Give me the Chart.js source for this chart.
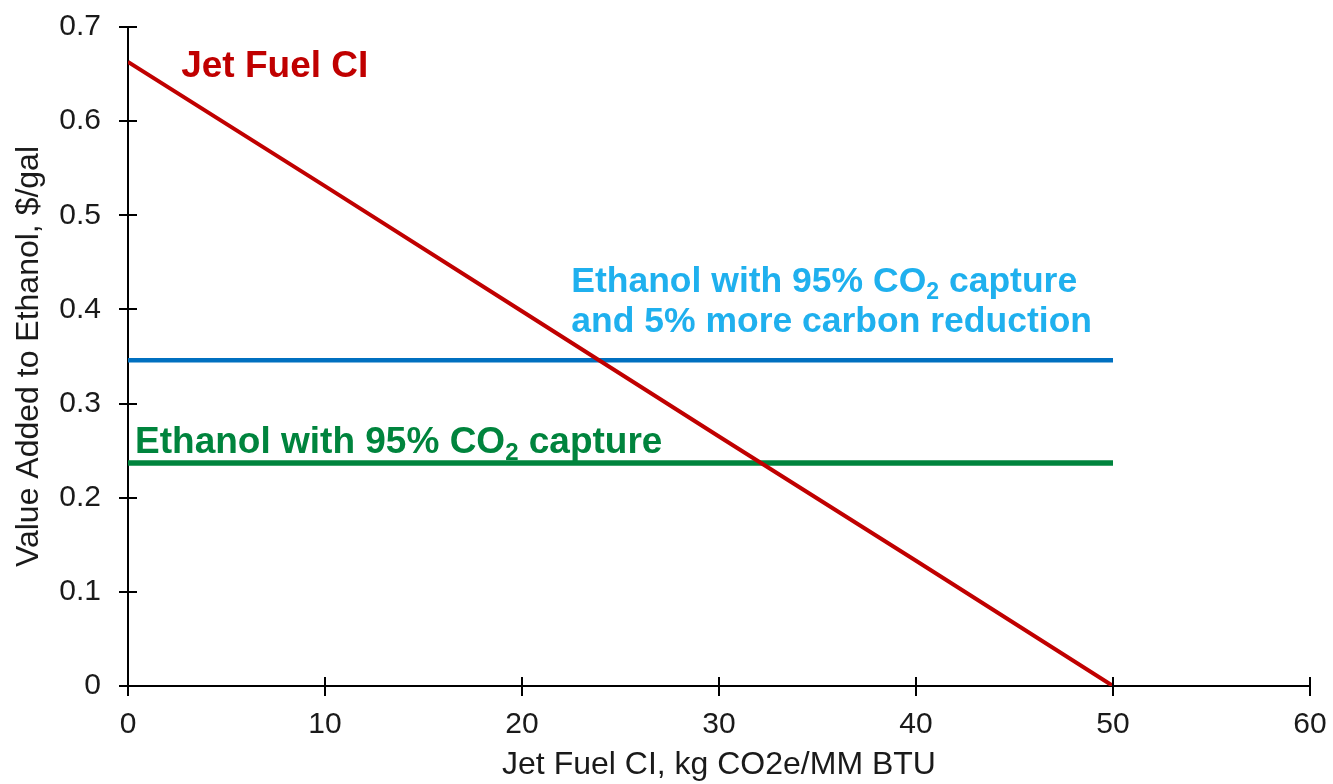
<!DOCTYPE html>
<html>
<head>
<meta charset="utf-8">
<script src="https://cdn.jsdelivr.net/npm/chart.js@4"></script>
<style>
  html, body { margin: 0; padding: 0; background: #fff; }
  #wrap { width: 1333px; height: 784px; position: relative; }
</style>
</head>
<body>
<div id="wrap"><canvas id="chart"></canvas></div>
<script>
  // data
  const jetFuelCI = [0, 10, 20, 30, 40, 50];
  const jetFuelValue = [0.663, 0.531, 0.398, 0.265, 0.133, 0];
  const ethanolX = [0, 50];
  const ethanolCapture = [0.237, 0.237];
  const ethanolCaptureMore = [0.346, 0.346];
  const xTicks = [0, 10, 20, 30, 40, 50, 60];
  const yTicks = [0, 0.1, 0.2, 0.3, 0.4, 0.5, 0.6, 0.7];

  const FONT = "Arial, 'Liberation Sans', sans-serif";
  const toPoints = (xs, ys) => xs.map((x, i) => ({ x: x, y: ys[i] }));

  // tick marks that cross the axis line
  const crossTicks = {
    id: 'crossTicks',
    afterDraw(chart) {
      const ctx = chart.ctx;
      const xs = chart.scales.x, ys = chart.scales.y;
      const area = chart.chartArea;
      ctx.save();
      ctx.strokeStyle = '#000';
      ctx.lineWidth = 2;
      ctx.beginPath();
      xTicks.forEach(v => {
        const px = Math.round(xs.getPixelForValue(v));
        ctx.moveTo(px, area.bottom - 9);
        ctx.lineTo(px, area.bottom + 10);
      });
      yTicks.forEach(v => {
        const py = Math.round(ys.getPixelForValue(v));
        ctx.moveTo(area.left - 9, py);
        ctx.lineTo(area.left + 9, py);
      });
      ctx.stroke();
      ctx.restore();
    }
  };

  function drawRich(ctx, parts, x, y, size) {
    parts.forEach(p => {
      if (p.sub) {
        ctx.font = 'bold ' + Math.round(size * 0.65) + 'px ' + FONT;
        ctx.fillText(p.t, x, y + size * 0.2);
      } else {
        ctx.font = 'bold ' + size + 'px ' + FONT;
        ctx.fillText(p.t, x, y);
      }
      x += ctx.measureText(p.t).width;
    });
  }

  // series labels placed in data coordinates
  const seriesLabels = {
    id: 'seriesLabels',
    afterDraw(chart) {
      const ctx = chart.ctx;
      const xs = chart.scales.x, ys = chart.scales.y;
      ctx.save();
      ctx.textBaseline = 'alphabetic';
      ctx.textAlign = 'left';

      ctx.fillStyle = '#C00000';
      drawRich(ctx, [{ t: 'Jet Fuel CI' }], xs.getPixelForValue(2.7), ys.getPixelForValue(0.647), 37);

      ctx.fillStyle = '#1FB0EE';
      const bx = xs.getPixelForValue(22.5);
      drawRich(ctx, [{ t: 'Ethanol with 95% CO' }, { t: '2', sub: true }, { t: ' capture' }], bx, ys.getPixelForValue(0.419), 35.5);
      drawRich(ctx, [{ t: 'and 5% more carbon reduction' }], bx, ys.getPixelForValue(0.376), 35.5);

      ctx.fillStyle = '#00843D';
      drawRich(ctx, [{ t: 'Ethanol with 95% CO' }, { t: '2', sub: true }, { t: ' capture' }], xs.getPixelForValue(0.36), ys.getPixelForValue(0.2475), 37);
      ctx.restore();
    }
  };

  new Chart(document.getElementById('chart'), {
    type: 'line',
    data: {
      datasets: [
        { label: 'Jet Fuel CI', data: toPoints(jetFuelCI, jetFuelValue),
          borderColor: '#C00000', borderWidth: 4, pointRadius: 0, fill: false },
        { label: 'Ethanol with 95% CO2 capture and 5% more carbon reduction', data: toPoints(ethanolX, ethanolCaptureMore),
          borderColor: '#0070C0', borderWidth: 4.5, pointRadius: 0, fill: false },
        { label: 'Ethanol with 95% CO2 capture', data: toPoints(ethanolX, ethanolCapture),
          borderColor: '#00843D', borderWidth: 5.5, pointRadius: 0, fill: false }
      ]
    },
    options: {
      responsive: true,
      maintainAspectRatio: false,
      animation: false,
      layout: { padding: { top: 27, right: 23, left: 0, bottom: 0 } },
      plugins: { legend: { display: false }, tooltip: { enabled: false } },
      scales: {
        x: {
          type: 'linear', min: 0, max: 60,
          afterBuildTicks: s => { s.ticks = xTicks.map(v => ({ value: v })); },
          afterFit: s => { s.height = 98; s.paddingLeft = 0; s.paddingRight = 0; },
          grid: { display: false, drawTicks: false },
          border: { display: true, color: '#000', width: 2 },
          ticks: { color: '#1a1a1a', padding: 21, maxRotation: 0, font: { family: FONT, size: 30 } },
          title: { display: true, text: 'Jet Fuel CI, kg CO2e/MM BTU', color: '#1a1a1a',
                   padding: { top: 0, bottom: 0 }, font: { family: FONT, size: 32 } }
        },
        y: {
          type: 'linear', min: 0, max: 0.7,
          afterBuildTicks: s => { s.ticks = yTicks.map(v => ({ value: v })); },
          afterFit: s => { s.width = 128; s.paddingTop = 0; s.paddingBottom = 0; },
          grid: { display: false, drawTicks: false },
          border: { display: true, color: '#000', width: 2 },
          ticks: { color: '#1a1a1a', padding: 27, font: { family: FONT, size: 30 },
                   callback: v => String(Math.round(v * 10) / 10) },
          title: { display: true, text: 'Value Added to Ethanol, $/gal', color: '#1a1a1a',
                   padding: { top: 10, bottom: 0 }, font: { family: FONT, size: 32 } }
        }
      }
    },
    plugins: [crossTicks, seriesLabels]
  });
</script>
</body>
</html>
